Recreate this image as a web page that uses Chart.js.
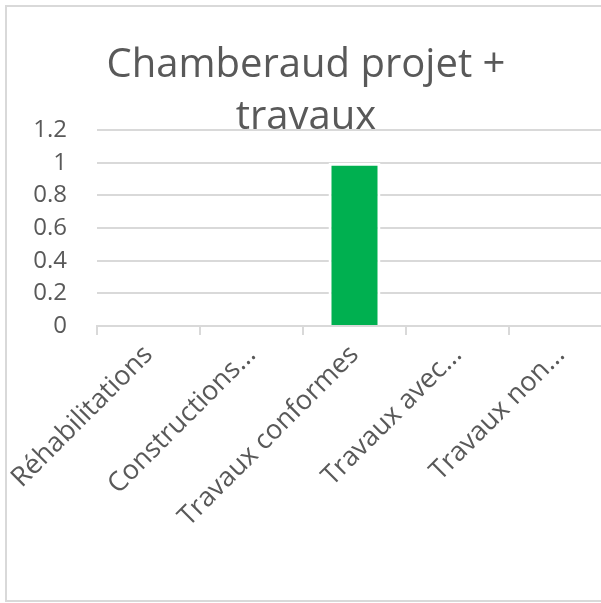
<!DOCTYPE html>
<html>
<head>
<meta charset="utf-8">
<script src="https://cdn.jsdelivr.net/npm/chart.js@4/dist/chart.umd.min.js"></script>
<style>
  html, body { margin: 0; padding: 0; background: #fff; overflow: hidden; width: 601px; height: 603px; }
  #frame { position: absolute; left: 5px; top: 5px; width: 640px; height: 597px; box-sizing: border-box; border: 2px solid #d9d9d9; }
  #chamberaudChart { position: absolute; left: 0; top: 0; }
</style>
</head>
<body>
<div id="frame"></div>
<canvas id="chamberaudChart" width="617" height="603"></canvas>
<script>
"use strict";

// categories as shown in the chart (Excel truncates long labels)
const categories = ["Réhabilitations", "Constructions...", "Travaux conformes", "Travaux avec...", "Travaux non..."];
const seriesValues = [0, 0, 1, 0, 0];
const yTickValues = [0, 0.2, 0.4, 0.6, 0.8, 1, 1.2];
const yTickLabels = ["0", "0.2", "0.4", "0.6", "0.8", "1", "1.2"];
const titleLines = ["Chamberaud projet +", "travaux"];

const textColor = "#595959";
const gridColor = "#d9d9d9";

document.addEventListener("DOMContentLoaded", () => {
  const canvas = document.querySelector("canvas#chamberaudChart");
  if (!canvas) return;

  new Chart(canvas, {
    type: "bar",
    data: {
      labels: categories,
      datasets: [
        {
          data: seriesValues,
          backgroundColor: "#00B050",
          borderColor: "#ffffff",
          borderWidth: 3,
          borderSkipped: "start",
          categoryPercentage: 1,
          barPercentage: 0.505,
        },
      ],
    },
    options: {
      responsive: false,
      animation: false,
      devicePixelRatio: 1,
      layout: {
        padding: { left: 0, right: 5, top: 0, bottom: 0 },
      },
      plugins: {
        legend: { display: false },
        tooltip: { enabled: false },
        title: {
          display: true,
          text: titleLines,
          color: textColor,
          font: { family: "'Open Sans'", size: 40, weight: "normal", lineHeight: "52px" },
          padding: { top: 40, bottom: -14 },
        },
      },
      scales: {
        x: {
          z: 1,
          grid: {
            display: true,
            drawOnChartArea: false,
            drawTicks: true,
            tickLength: 9,
            color: gridColor,
            lineWidth: 2,
          },
          border: { display: true, color: gridColor, width: 2 },
          ticks: {
            color: textColor,
            font: { family: "'Open Sans'", size: 27 },
            minRotation: 45,
            maxRotation: 45,
            autoSkip: false,
            padding: 4,
          },
          afterFit: (scale) => {
            scale.height = 277;
          },
        },
        y: {
          min: 0,
          max: 1.2,
          grid: {
            color: gridColor,
            lineWidth: 2,
            drawTicks: false,
          },
          border: { display: false },
          ticks: {
            color: textColor,
            font: { family: "'Open Sans'", size: 24 },
            padding: 30,
            callback: (value, index) => yTickLabels[index],
          },
          afterBuildTicks: (scale) => {
            scale.ticks = yTickValues.map((v) => ({ value: v }));
          },
          afterFit: (scale) => {
            scale.width = 97;
          },
        },
      },
    },
  });
});
</script>
</body>
</html>
